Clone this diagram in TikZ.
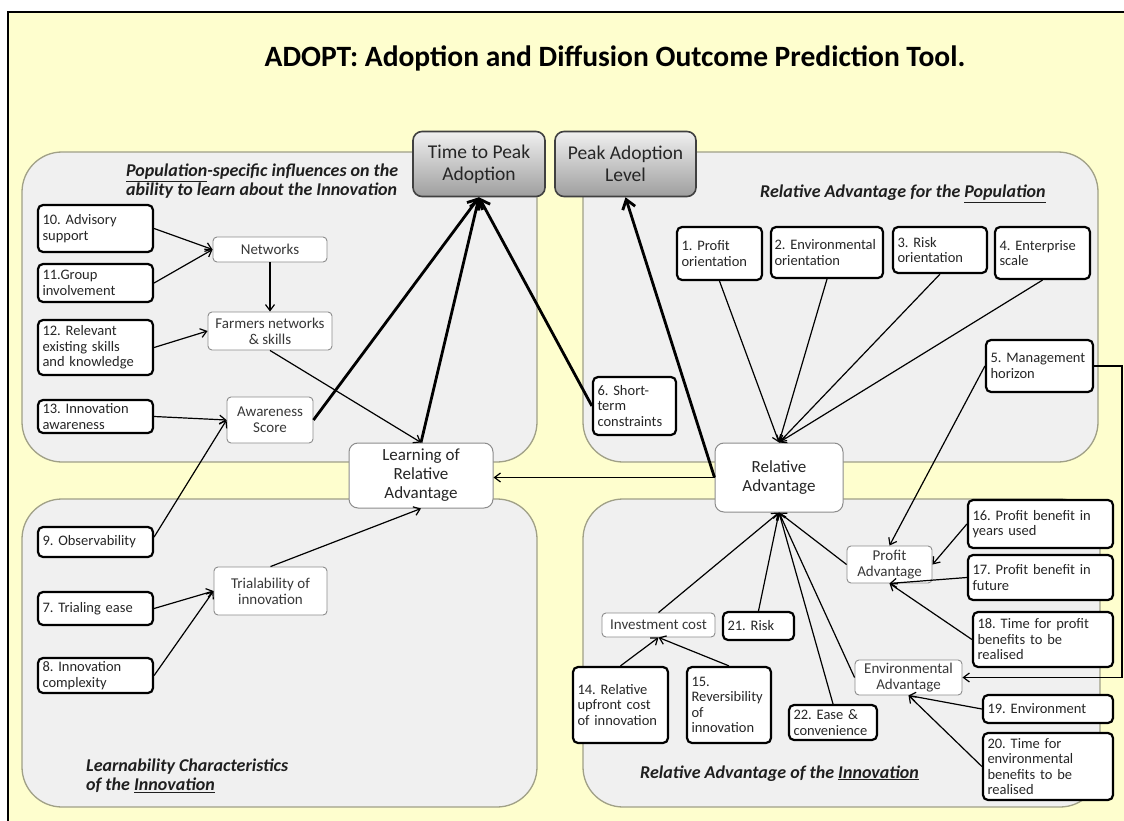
\documentclass[tikz,border=0pt]{standalone}
\usepackage{fontspec}
\setmainfont{Carlito}
\usetikzlibrary{arrows.meta}
\frenchspacing
\definecolor{bgyellow}{RGB}{254,254,206}
\definecolor{panelfill}{RGB}{240,240,240}
\definecolor{panelline}{RGB}{160,160,135}
\newcommand\boxfont{\fontsize{14.5}{15.5}\selectfont}
\newcommand\lboxfont{\fontsize{15}{16}\selectfont}
\newcommand\hdfont{\fontsize{18}{18.5}\selectfont\bfseries\itshape}
\begin{document}
\begin{tikzpicture}[x=1pt,y=-1pt,
  panel/.style={fill=panelfill, draw=panelline, line width=1.3pt, rounded corners=40pt},
  numbox/.style={draw=black, line width=2.2pt, rounded corners=5pt, fill=white, align=left,
                 inner xsep=4pt, inner ysep=1pt, font=\boxfont, text=black!85},
  lbox/.style={draw=black!45, line width=0.9pt, rounded corners=4pt, fill=white, align=center,
               inner sep=1pt, font=\lboxfont, text=black!78},
  bigbox/.style={draw=black!45, line width=1pt, rounded corners=9pt, fill=white, align=center,
                 font=\fontsize{17}{19}\selectfont, text=black!85},
  gbox/.style={draw=black!75, line width=1.6pt, rounded corners=9pt, top color=black!6,
               bottom color=black!38, align=center, font=\fontsize{19.5}{22}\selectfont, text=black!85},
  hd/.style={font=\hdfont, text=black!88, inner sep=0pt, align=left},
  arr/.style={-{Straight Barb[length=6pt,width=9pt]}, line width=1.2pt},
  tarr/.style={-{Straight Barb[length=9pt,width=13pt]}, line width=2.8pt}
]
\useasboundingbox (0,0) rectangle (1124,821);
\fill[white] (0,0) rectangle (1124,821);
\fill[bgyellow] (8,12) rectangle (1124,821);
\draw[line width=1.6pt] (1124,12) -- (8,12) -- (8,821);

% panels
\path[panel] (22,152) rectangle (537,462);
\path[panel] (583,152) rectangle (1098,462);
\path[panel] (22,499) rectangle (537,807);
\path[panel] (583,499) rectangle (1100,807);

% title and headings
\node[font=\fontsize{29.5}{34}\selectfont\bfseries] (title) at (615,58) {ADOPT: Adoption and Diffusion Outcome Prediction Tool.};
\node[hd, anchor=north west] (hTL) at (126,164) {\underline{Population}-specific influences on the\\ability to learn about the Innovation};
\node[hd, anchor=base west] (hTR) at (760,198) {Relative Advantage for the \underline{Population}};
\node[hd, anchor=north west] (hBL) at (86,759) {Learnability Characteristics\\of the \underline{Innovation}};
\node[hd, anchor=base west] (hBR) at (640,778) {Relative Advantage of the \underline{Innovation}};

% outcome boxes
\node[gbox, minimum width=132pt, minimum height=65pt] (ttp) at (479,164) {Time to Peak\\Adoption};
\node[gbox, minimum width=141pt, minimum height=65pt] (pal) at (625.5,164) {Peak Adoption\\Level};

% central boxes
\node[bigbox, minimum width=144pt, minimum height=65pt] (learn) at (421,475.5) {Learning of\\Relative\\Advantage};
\node[bigbox, minimum width=128pt, minimum height=69pt] (reladv) at (779,477.5) {Relative\\Advantage};

% top-left panel
\node[numbox, minimum width=115pt, minimum height=47pt, text width=106pt] (b10) at (95.5,228.5) {10. Advisory\\support};
\node[numbox, minimum width=115pt, minimum height=38pt, text width=106pt] (b11) at (95.5,283) {11.Group\\involvement};
\node[numbox, minimum width=115pt, minimum height=55pt, text width=106pt] (b12) at (95.5,347.5) {12. Relevant\\existing skills\\and knowledge};
\node[numbox, minimum width=115pt, minimum height=33pt, text width=106pt] (b13) at (95.5,416.5) {13. Innovation\\awareness};
\node[lbox, minimum width=114pt, minimum height=25pt] (net) at (270,249.5) {Networks};
\node[lbox, minimum width=124pt, minimum height=38pt] (farm) at (270,331) {Farmers networks\\\& skills};
\node[lbox, minimum width=86pt, minimum height=46pt] (aware) at (270,420) {Awareness\\Score};

% bottom-left panel
\node[numbox, minimum width=115pt, minimum height=30pt, text width=106pt] (b9) at (95.5,542) {9. Observability};
\node[numbox, minimum width=115pt, minimum height=33pt, text width=106pt] (b7) at (95.5,608.5) {7. Trialing ease};
\node[numbox, minimum width=115pt, minimum height=35pt, text width=106pt] (b8) at (95.5,675.5) {8. Innovation\\complexity};
\node[lbox, minimum width=113pt, minimum height=48pt] (trial) at (270.5,591) {Trialability of\\innovation};

% top-right panel
\node[numbox, minimum width=85pt, minimum height=53pt, text width=76pt] (b1) at (719.5,253.5) {1. Profit\\orientation};
\node[numbox, minimum width=112pt, minimum height=51pt, text width=105pt, inner xsep=3pt] (b2) at (827,252.5) {2. Environmental\\orientation};
\node[numbox, minimum width=94pt, minimum height=46pt, text width=85pt] (b3) at (940,250) {3. Risk\\orientation};
\node[numbox, minimum width=95pt, minimum height=52pt, text width=86pt] (b4) at (1042.5,253) {4. Enterprise\\scale};
\node[numbox, minimum width=107pt, minimum height=52pt, text width=98pt] (b5) at (1039.5,366) {5. Management\\horizon};
\node[numbox, minimum width=83pt, minimum height=58pt, text width=74pt] (b6) at (634.5,406) {6. Short-\\term\\constraints};

% bottom-right panel
\node[lbox, minimum width=113pt, minimum height=24pt] (invest) at (658.5,625) {Investment cost};
\node[numbox, minimum width=71pt, minimum height=28pt, text width=62pt] (b21) at (758.5,626) {21. Risk};
\node[numbox, minimum width=95pt, minimum height=76pt, text width=86pt] (b14) at (620.5,705) {14. Relative\\upfront cost\\of innovation};
\node[numbox, minimum width=84pt, minimum height=76pt, text width=75pt] (b15) at (729,705) {15.\\Reversibility\\of\\innovation};
\node[numbox, minimum width=88pt, minimum height=35pt, text width=79pt] (b22) at (833,722.5) {22. Ease \&\\convenience};
\node[lbox, minimum width=85pt, minimum height=37pt] (profit) at (889.5,564.5) {Profit\\Advantage};
\node[lbox, minimum width=107pt, minimum height=35pt] (env) at (908.5,677.5) {Environmental\\Advantage};
\node[numbox, minimum width=145pt, minimum height=48pt, text width=136pt] (b16) at (1040.5,524) {16. Profit benefit in\\years used};
\node[numbox, minimum width=145pt, minimum height=45pt, text width=136pt] (b17) at (1040.5,577.5) {17. Profit benefit in\\future};
\node[numbox, minimum width=140pt, minimum height=55pt, text width=131pt] (b18) at (1043,639.5) {18. Time for profit\\benefits to be\\realised};
\node[numbox, minimum width=130pt, minimum height=28pt, text width=121pt] (b19) at (1048,709) {19. Environment};
\node[numbox, minimum width=130pt, minimum height=67pt, text width=121pt] (b20) at (1048,766.5) {20. Time for\\environmental\\benefits to be\\realised};

\coordinate (rt) at (1122,0);

% connectors, top-left
\draw[arr] (b10.east) -- (net.west);
\draw[arr] (b11.east) -- (net.west);
\draw[arr] (net.south) -- (farm.north);
\draw[arr] (b12.east) -- (farm.west);
\draw[arr] (b13.east) -- (aware.west);
\draw[arr] ([yshift=5pt]b9.east) -- (aware.west);
\draw[arr] (farm.south) -- (learn.north);
\draw[tarr] (aware.east) -- (ttp.south);
\draw[tarr] (learn.north) -- (ttp.south);
\draw[tarr] (b6.west) -- (ttp.south);
% bottom-left
\draw[arr] (b7.east) -- (trial.west);
\draw[arr] (b8.east) -- (trial.west);
\draw[arr] (trial.north) -- (learn.south);
% top-right
\draw[arr] (b1.south) -- (reladv.north);
\draw[arr] (b2.south) -- (reladv.north);
\draw[arr] (b3.south) -- (reladv.north);
\draw[arr] (b4.south) -- (reladv.north);
\draw[arr] (b5.west) -- (profit.north);
\draw[arr] (b5.east) -- (b5.east -| rt) |- (env.east);
\draw[tarr] (reladv.west) -- (pal.south);
\draw[arr] (reladv.west) -- (reladv.west -| learn.east);
% bottom-right
\draw[arr] (invest.north) -- (reladv.south);
\draw[arr] (b21.north) -- (reladv.south);
\draw[arr] (b22.north) -- (reladv.south);
\draw[arr] (env.west) -- (reladv.south);
\draw[arr] (profit.west) -- (reladv.south);
\draw[arr] (b14.north) -- (invest.south);
\draw[arr] (b15.north) -- (invest.south);
\draw[arr] (b16.west) -- (profit.east);
\draw[arr] (b17.west) -- (profit.south);
\draw[arr] (b18.west) -- (profit.south);
\draw[arr] (b19.west) -- (env.south);
\draw[arr] (b20.west) -- (env.south);
\end{tikzpicture}
\end{document}
